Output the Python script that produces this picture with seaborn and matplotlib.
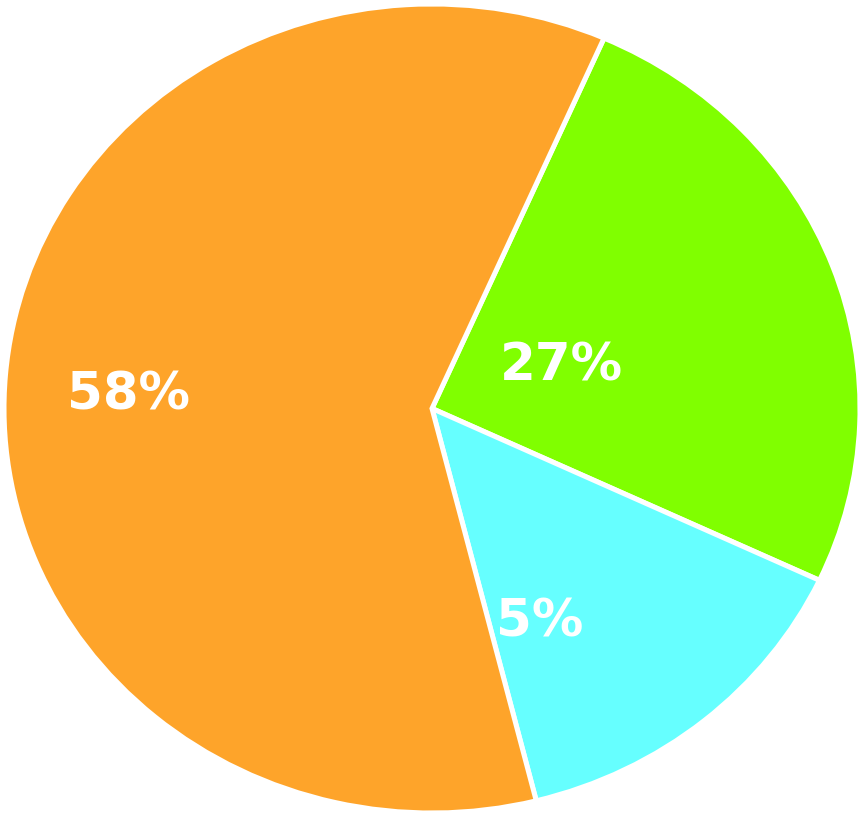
import matplotlib
matplotlib.use("Agg")
import matplotlib.pyplot as plt
import seaborn as sns

sns.set_theme(style="white")
plt.rcParams['font.family'] = ['DejaVu Sans']

# Data (slice shares as drawn, and the printed labels)
categories = ["Green", "Cyan", "Orange"]
shares = [25.4, 14.1, 60.5]
labels = ["27%", "5%", "58%"]
colors = ["#80FF00", "#66FFFF", "#FEA42A"]

# label positions in axis data units (layout only)
label_pos = [(0.303, 0.103), (0.252, -0.528), (-0.710, 0.031)]

fig = plt.figure(figsize=(8.64, 8.18), dpi=100)
ax = fig.add_axes([0, 0, 1, 1])
ax.pie(shares, colors=colors, startangle=66.3, counterclock=False,
       wedgeprops=dict(edgecolor="white", linewidth=3.6, joinstyle="miter"))
ax.set_aspect("auto")
ax.set_xlim(-432 / 428, 432 / 428)
ax.set_ylim(-(818 - 408.5) / 404.5, 408.5 / 404.5)
ax.axis("off")

for lab, (x, y) in zip(labels, label_pos):
    ax.text(x, y, lab, color="white", fontsize=37, fontweight="bold",
            ha="center", va="center")

fig.savefig("out.png", dpi=100)
